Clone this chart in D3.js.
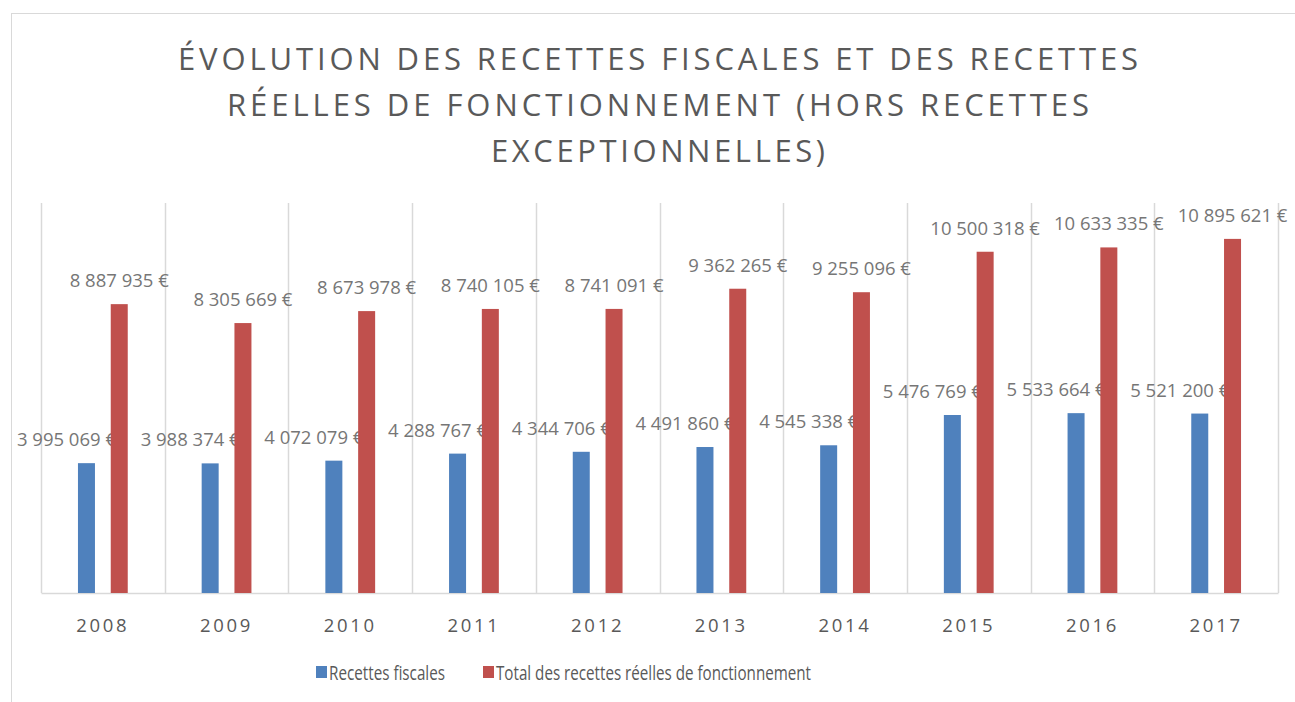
<!doctype html>
<html>
  <head>
    <meta charset="utf-8">
    <title>Évolution des recettes</title>
    <script src="https://d3js.org/d3.v7.min.js"></script>
    <style>
        body {
            margin: 0;
            padding: 0;
            background: #fff;
        }
        html {
            font-family: "Open Sans", Arial;
        }
    </style>
  </head>
  <body>
        <div id="chart"></div>
        <script>

            // chart data
            var years = ["2008","2009","2010","2011","2012","2013","2014","2015","2016","2017"];
            var recettesFiscales = [3995069, 3988374, 4072079, 4288767, 4344706, 4491860, 4545338, 5476769, 5533664, 5521200];
            var totalRecettes = [8887935, 8305669, 8673978, 8740105, 8741091, 9362265, 9255096, 10500318, 10633335, 10895621];
            var seriesNames = ["Recettes fiscales", "Total des recettes réelles de fonctionnement"];
            var titleLines = ["ÉVOLUTION DES RECETTES FISCALES ET DES RECETTES",
                "RÉELLES DE FONCTIONNEMENT (HORS RECETTES",
                "EXCEPTIONNELLES)"];

            var width = 1295;
            var height = 702;
            var colors = ["#4f81bd", "#c0504d"];
            var plot = {left: 41, right: 1278, top: 203, bottom: 593};

            var svg = d3.select("#chart")
                .append("svg")
                .attr("width", width)
                .attr("height", height);

            // outer chart frame
            svg.append("rect")
                .attr("x", 11.5)
                .attr("y", 13.5)
                .attr("width", 1400)
                .attr("height", 800)
                .attr("fill", "none")
                .attr("stroke", "#d9d9d9");

            /*
            Title
            */
            var titleWidths = [960, 862, 334];
            svg.append("g")
                .selectAll("text")
                .data(titleLines)
                .enter()
                .append("text")
                .attr("x", 658)
                .attr("y", (d, i) => 70 + i * 46)
                .attr("text-anchor", "middle")
                .attr("textLength", (d, i) => titleWidths[i])
                .attr("lengthAdjust", "spacing")
                .style("font-size", "31px")
                .style("fill", "#595959")
                .text((d) => d);

            /*
            Scales
            */
            var x = d3.scaleBand()
                .domain(years)
                .range([plot.left, plot.right])
                .padding(0);

            // position of each series inside a year
            var xSeries = d3.scaleBand()
                .domain([0, 1])
                .range([x.bandwidth() * 0.235, x.bandwidth() * 0.765]);

            var y = d3.scaleLinear()
                .domain([0, 12000000])
                .range([plot.bottom, plot.top]);

            var barWidth = 17;

            // vertical gridlines between categories
            var gridX = years.map((d) => x(d)).concat([plot.right]);
            svg.append("g")
                .selectAll("line")
                .data(gridX)
                .enter()
                .append("line")
                .attr("x1", (d) => Math.round(d) + 0.5)
                .attr("x2", (d) => Math.round(d) + 0.5)
                .attr("y1", plot.top)
                .attr("y2", plot.bottom)
                .attr("stroke", "#d9d9d9")
                .attr("stroke-width", 1.5);

            // x axis
            var xAxis = svg.append("g")
                .attr("transform", "translate(0," + plot.bottom + ")")
                .call(d3.axisBottom(x).tickSize(0).tickPadding(26));
            xAxis.select(".domain")
                .attr("stroke", "#d9d9d9")
                .attr("stroke-width", 1.5);
            xAxis.selectAll("text")
                .style("font-family", "'Open Sans', Arial")
                .style("font-size", "18.5px")
                .style("letter-spacing", "2.7px")
                .style("fill", "#595959");

            /*
            Bars
            */
            var series = [recettesFiscales, totalRecettes];
            var fmt = (v) => d3.format(",")(v).replace(/,/g, " ") + " €";
            var labelShift = [-20, 0];

            series.forEach(function(values, s) {
                var g = svg.append("g");
                var cx = (d, i) => x(years[i]) + xSeries(s) + xSeries.bandwidth() / 2;

                g.selectAll("rect")
                    .data(values)
                    .enter()
                    .append("rect")
                    .attr("x", (d, i) => cx(d, i) - barWidth / 2)
                    .attr("y", (d) => y(d))
                    .attr("width", barWidth)
                    .attr("height", (d) => plot.bottom - y(d))
                    .style("fill", colors[s]);

                g.selectAll("text")
                    .data(values)
                    .enter()
                    .append("text")
                    .attr("x", (d, i) => cx(d, i) + labelShift[s])
                    .attr("y", (d) => y(d) - 17)
                    .attr("text-anchor", "middle")
                    .style("font-size", "18.5px")
                    .style("fill", "#767676")
                    .text((d) => fmt(d));
            });

            /*
            Legend
            */
            var legendX = [316, 483];
            var legendWidths = [116, 315];
            var legend = svg.append("g")
                .selectAll("g")
                .data(seriesNames)
                .enter()
                .append("g")
                .attr("transform", (d, i) => "translate(" + legendX[i] + ",666)");

            legend.append("rect")
                .attr("width", 11)
                .attr("height", 12)
                .style("fill", (d, i) => colors[i]);

            legend.append("text")
                .attr("x", 13)
                .attr("y", 13.5)
                .attr("textLength", (d, i) => legendWidths[i])
                .attr("lengthAdjust", "spacingAndGlyphs")
                .style("font-size", "19.5px")
                .style("fill", "#595959")
                .text((d) => d);

        </script>
    </body>
</html>
